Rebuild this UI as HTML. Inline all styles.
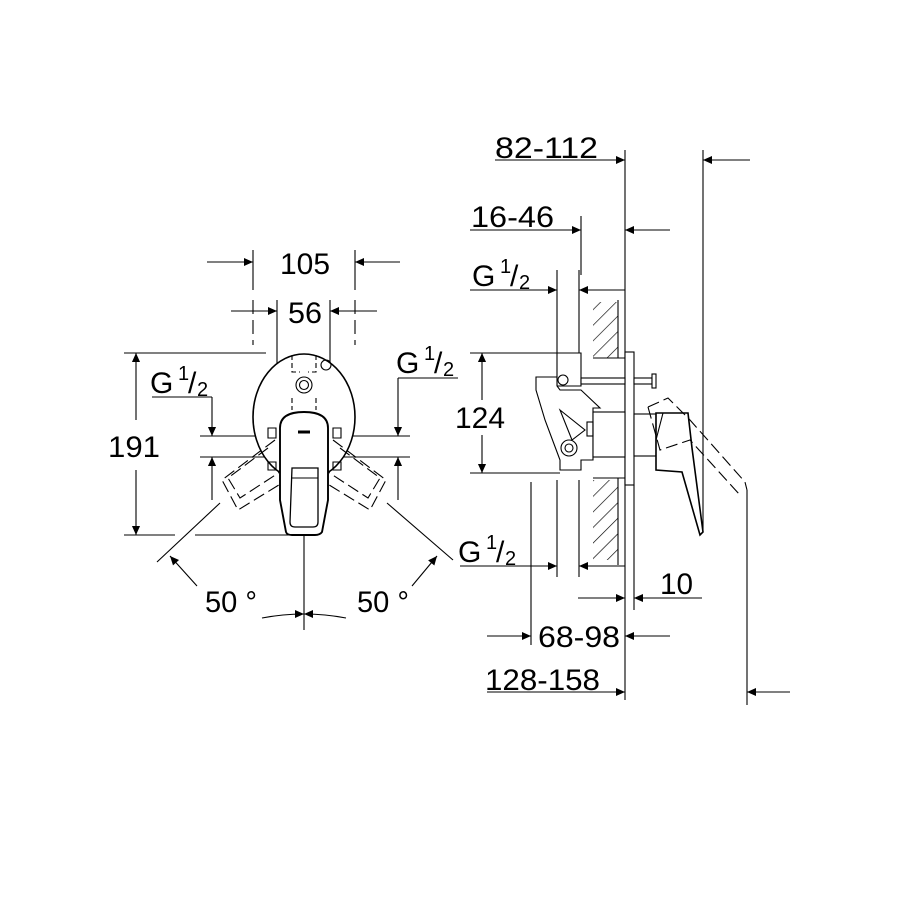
<!DOCTYPE html>
<html><head><meta charset="utf-8"><style>
html,body{margin:0;padding:0;background:#fff;}
svg{display:block;}
text{font-family:"Liberation Sans",Arial,sans-serif;fill:#000;}
</style></head><body>
<svg width="900" height="900" viewBox="0 0 900 900" xmlns="http://www.w3.org/2000/svg">
<defs>
<marker id="a" viewBox="0 0 10 10" refX="10" refY="5" markerWidth="20" markerHeight="9" markerUnits="userSpaceOnUse" orient="auto"><path d="M0,0.5 L10,5 L0,9.5 Z" fill="#000"/></marker>
<pattern id="h" width="11" height="11" patternUnits="userSpaceOnUse" patternTransform="rotate(45)"><line x1="0" y1="0" x2="0" y2="11" stroke="#000" stroke-width="1.3"/></pattern>
</defs>
<g stroke="#000" stroke-width="1.1" fill="none">
<!-- ===== FRONT VIEW ===== -->
<line x1="253" y1="250" x2="253" y2="290"/><line x1="355" y1="250" x2="355" y2="290"/>
<line x1="253" y1="300" x2="253" y2="345" stroke-dasharray="14,6"/><line x1="355" y1="300" x2="355" y2="345" stroke-dasharray="14,6"/>
<line x1="207" y1="262" x2="253" y2="262" marker-end="url(#a)"/>
<line x1="400" y1="262" x2="355" y2="262" marker-end="url(#a)"/>
<line x1="277" y1="300" x2="277" y2="440"/><line x1="330" y1="300" x2="330" y2="440"/>
<line x1="231" y1="311" x2="277" y2="311" marker-end="url(#a)"/>
<line x1="377" y1="311" x2="330" y2="311" marker-end="url(#a)"/>
<line x1="124" y1="353" x2="266" y2="353"/>
<line x1="124" y1="535" x2="175" y2="535"/><line x1="195" y1="535" x2="300" y2="535"/>
<line x1="136" y1="420" x2="136" y2="353" marker-end="url(#a)"/>
<line x1="136" y1="470" x2="136" y2="535" marker-end="url(#a)"/>
<line x1="152" y1="397" x2="212" y2="397"/>
<line x1="212" y1="397" x2="212" y2="436" marker-end="url(#a)"/>
<line x1="212" y1="500" x2="212" y2="457" marker-end="url(#a)"/>
<line x1="200" y1="436" x2="280" y2="436"/><line x1="200" y1="457" x2="280" y2="457"/>
<line x1="398" y1="378" x2="458" y2="378"/>
<line x1="398" y1="378" x2="398" y2="436" marker-end="url(#a)"/>
<line x1="398" y1="500" x2="398" y2="457" marker-end="url(#a)"/>
<line x1="330" y1="436" x2="410" y2="436"/><line x1="330" y1="457" x2="410" y2="457"/>
<ellipse cx="304" cy="417" rx="51" ry="63" stroke-width="1.6" fill="#fff"/>
<circle cx="304" cy="385" r="8"/><circle cx="304" cy="385" r="4.5"/>
<path d="M292,355 V372 H300 M316,355 V372 H308 M292,398 V410 M316,398 V410" stroke-dasharray="5,3"/>
<circle cx="326" cy="365" r="5"/>
<path d="M268,428 h8 v10 h-8z M333,428 h8 v10 h-8z M268,462 h8 v8 h-8z M333,462 h8 v8 h-8z"/>
<g stroke-dasharray="12,5">
<path d="M275,440 L222,480 L238,510 L287,480"/>
<path d="M268,448 L228,478 L240,498 L283,470"/>
<path d="M333,440 L386,480 L370,510 L321,480"/>
<path d="M340,448 L380,478 L368,498 L325,470"/>
</g>
<path d="M280,500 V428 Q280,412 304,412 Q328,412 328,428 V500 L322,532 Q320,535 315,535 H292 Q287,535 286,532 Z" stroke-width="1.9" fill="#fff"/>
<path d="M292,468 H318 V522 Q318,527 313,527 H295 Q290,527 290,522 Z" stroke-width="1.3"/>
<path d="M292,478 H318"/>
<path d="M298,432 H310" stroke-width="3"/>
<line x1="304" y1="535" x2="304" y2="630"/>
<line x1="220" y1="503" x2="157" y2="562"/>
<line x1="387" y1="503" x2="453" y2="560"/>
<path d="M197,586 L170,556" marker-end="url(#a)"/>
<path d="M412,586 L437,556" marker-end="url(#a)"/>
<path d="M262,618 Q283,614 304,614" marker-end="url(#a)"/>
<path d="M346,618 Q325,614 304,614" marker-end="url(#a)"/>
<!-- ===== SIDE VIEW ===== -->
<line x1="625" y1="150" x2="625" y2="700"/>
<line x1="703" y1="150" x2="703" y2="530"/>
<line x1="747" y1="490" x2="747" y2="705"/>
<line x1="495" y1="160" x2="625" y2="160" marker-end="url(#a)"/>
<line x1="750" y1="160" x2="703" y2="160" marker-end="url(#a)"/>
<line x1="470" y1="230" x2="581" y2="230" marker-end="url(#a)"/>
<line x1="670" y1="230" x2="625" y2="230" marker-end="url(#a)"/>
<line x1="581" y1="216" x2="581" y2="275"/>
<line x1="470" y1="290" x2="557" y2="290" marker-end="url(#a)"/>
<line x1="625" y1="290" x2="579" y2="290" marker-end="url(#a)"/>
<line x1="557" y1="270" x2="557" y2="353"/><line x1="579" y1="270" x2="579" y2="353"/>
<rect x="593" y="302" width="25" height="56" fill="url(#h)" stroke="none"/>
<rect x="593" y="480" width="25" height="80" fill="url(#h)" stroke="none"/>
<line x1="618" y1="300" x2="618" y2="358"/><line x1="618" y1="478" x2="618" y2="565"/>
<line x1="593" y1="358" x2="625" y2="358"/><line x1="593" y1="478" x2="625" y2="478"/>
<line x1="470" y1="353" x2="557" y2="353"/><line x1="470" y1="473" x2="560" y2="473"/>
<line x1="482" y1="400" x2="482" y2="353" marker-end="url(#a)"/>
<line x1="482" y1="435" x2="482" y2="473" marker-end="url(#a)"/>
<rect x="625" y="352" width="9" height="133" fill="#fff"/>
<line x1="634" y1="485" x2="634" y2="610"/>
<path d="M557,353 H581 V386 H557 Z" fill="#fff"/>
<path d="M536,377 H557 V386 L560,390 H581 L600,408 H593 V460 H581 V470 H560 V460 L545,420 L536,390 Z" fill="#fff"/>
<path d="M560,410 L585,430 L572,440 Z"/>
<circle cx="569" cy="448" r="8"/><circle cx="569" cy="448" r="4"/>
<circle cx="563" cy="380" r="5"/>
<rect x="581" y="378" width="44" height="6" fill="#fff"/>
<rect x="634" y="378" width="18" height="6" fill="#fff"/>
<rect x="652" y="374" width="4" height="14" fill="#fff"/>
<rect x="593" y="412" width="32" height="45" fill="#fff"/>
<rect x="587" y="422" width="6" height="14"/>
<rect x="634" y="414" width="22" height="42" fill="#fff"/>
<path d="M656,413 H688 L692,448 L703,532 L700,535 L690,500 L682,472 L656,470 Z" stroke-width="1.6" fill="#fff"/>
<path d="M663,413 L656,440"/>
<path d="M648,407 L668,398 L690,420 L745,482 L747,490" stroke-dasharray="12,5"/>
<path d="M648,407 L660,450 L690,440 L740,495" stroke-dasharray="12,5"/>
<line x1="557" y1="480" x2="557" y2="577"/><line x1="579" y1="480" x2="579" y2="577"/>
<line x1="531" y1="482" x2="531" y2="645"/>
<line x1="460" y1="566" x2="557" y2="566" marker-end="url(#a)"/>
<line x1="625" y1="566" x2="579" y2="566" marker-end="url(#a)"/>
<line x1="578" y1="598" x2="625" y2="598" marker-end="url(#a)"/>
<line x1="702" y1="598" x2="634" y2="598" marker-end="url(#a)"/>
<line x1="487" y1="636" x2="531" y2="636" marker-end="url(#a)"/>
<line x1="670" y1="636" x2="625" y2="636" marker-end="url(#a)"/>
<line x1="487" y1="692" x2="625" y2="692" marker-end="url(#a)"/>
<line x1="790" y1="692" x2="747" y2="692" marker-end="url(#a)"/>
</g>
<g font-size="30" lengthAdjust="spacingAndGlyphs">
<text x="280" y="274" textLength="50" lengthAdjust="spacingAndGlyphs">105</text>
<text x="288" y="323" textLength="34" lengthAdjust="spacingAndGlyphs">56</text>
<text x="108" y="457" textLength="52" lengthAdjust="spacingAndGlyphs">191</text>
<text x="150" y="393">G</text><text x="178" y="380" font-size="20">1</text><text x="188" y="393">/</text><text x="197" y="396" font-size="20">2</text>
<text x="396" y="373">G</text><text x="424" y="360" font-size="20">1</text><text x="434" y="373">/</text><text x="443" y="376" font-size="20">2</text>
<text x="205" y="612" textLength="52" lengthAdjust="spacingAndGlyphs">50 °</text>
<text x="357" y="612" textLength="52" lengthAdjust="spacingAndGlyphs">50 °</text>
<text x="495" y="158" textLength="103" lengthAdjust="spacingAndGlyphs">82-112</text>
<text x="471" y="227" textLength="83" lengthAdjust="spacingAndGlyphs">16-46</text>
<text x="472" y="286">G</text><text x="500" y="273" font-size="20">1</text><text x="510" y="286">/</text><text x="519" y="289" font-size="20">2</text>
<text x="455" y="428" textLength="50" lengthAdjust="spacingAndGlyphs">124</text>
<text x="458" y="562">G</text><text x="486" y="549" font-size="20">1</text><text x="496" y="562">/</text><text x="505" y="565" font-size="20">2</text>
<text x="660" y="594" textLength="33" lengthAdjust="spacingAndGlyphs">10</text>
<text x="538" y="647" textLength="82" lengthAdjust="spacingAndGlyphs">68-98</text>
<text x="485" y="690" textLength="115" lengthAdjust="spacingAndGlyphs">128-158</text>
</g>
</svg>
</body></html>
